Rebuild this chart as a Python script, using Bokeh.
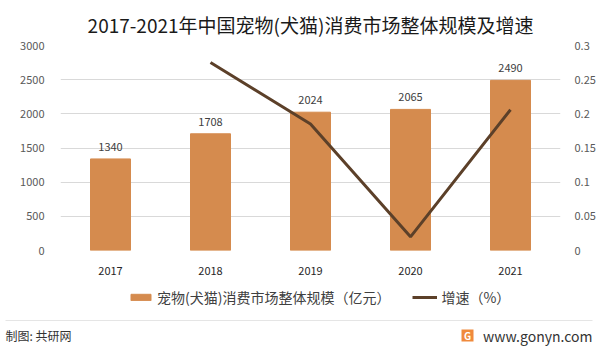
from bokeh.plotting import figure
from bokeh.models import (Range1d, LinearAxis, FixedTicker, CustomJSTickFormatter,
                          Legend, LegendItem, ColumnDataSource, Title)
from bokeh.core.properties import value
from bokeh.embed import file_html
from bokeh.resources import INLINE

years = ["2017", "2018", "2019", "2020", "2021"]
scale = [1340, 1708, 2024, 2065, 2490]
growth_years = ["2018", "2019", "2020", "2021"]
growth = [0.275, 0.185, 0.02, 0.206]
left_ticks = [0, 500, 1000, 1500, 2000, 2500, 3000]
right_ticks = [0, 0.05, 0.1, 0.15, 0.2, 0.25, 0.3]
title_text = "2017-2021年中国宠物(犬猫)消费市场整体规模及增速"
bar_label = "宠物(犬猫)消费市场整体规模（亿元）"
line_label = "增速（%）"
credit = "制图: 共研网"
site = "www.gonyn.com"

FONT = "Noto Sans CJK SC"
BAR = "#D58B4E"
LINE = "#5C4029"

p = figure(x_range=years, y_range=Range1d(0, 3000), width=599, height=280,
           output_backend="svg", toolbar_location=None,
           min_border_left=60, min_border_right=39, min_border_top=44, min_border_bottom=30)
p.outline_line_color = None
p.extra_y_ranges = {"g": Range1d(0, 0.3)}

p.title = Title(text=title_text, align="center", text_font=FONT, text_font_size="19px",
                text_font_style="normal", text_color="#1a1a1a", standoff=16)

src = ColumnDataSource(dict(x=years, y=scale, t=[str(v) for v in scale]))
bars = p.vbar(x="x", top="y", width=0.4, source=src, color=BAR)
p.text(x="x", y="y", text="t", source=src, y_offset=-8, text_align="center",
       text_baseline="bottom", text_font=value(FONT), text_font_size="11px", text_color="#404040")
ln = p.line(growth_years, growth, y_range_name="g", color=LINE, line_width=3)

ax = p.yaxis[0]
ax.ticker = FixedTicker(ticks=left_ticks)
ax.axis_line_color = None
ax.major_tick_line_color = None
ax.minor_tick_line_color = None
ax.major_label_text_font = FONT
ax.major_label_text_font_size = "11px"
ax.major_label_text_color = "#595959"
ax.major_label_standoff = 10

ra = LinearAxis(y_range_name="g", ticker=FixedTicker(ticks=right_ticks),
                formatter=CustomJSTickFormatter(code="return String(Math.round(tick*100)/100)"))
ra.axis_line_color = None
ra.major_tick_line_color = None
ra.minor_tick_line_color = None
ra.major_label_text_font = FONT
ra.major_label_text_font_size = "11px"
ra.major_label_text_color = "#595959"
ra.major_label_standoff = 8
p.add_layout(ra, "right")

xa = p.xaxis[0]
xa.axis_line_color = None
xa.major_tick_line_color = None
xa.minor_tick_line_color = None
xa.major_label_text_font = FONT
xa.major_label_text_font_size = "11px"
xa.major_label_text_color = "#262626"
xa.major_label_standoff = 10

p.xgrid.grid_line_color = None
p.ygrid.grid_line_color = "#D9D9D9"
p.ygrid.ticker = FixedTicker(ticks=left_ticks)

# lower strip: legend + credits
f = figure(x_range=Range1d(0, 599), y_range=Range1d(0, 67), width=599, height=67,
           output_backend="svg", toolbar_location=None, min_border=0)
f.axis.visible = False
f.grid.visible = False
f.outline_line_color = None
lb = f.vbar(x=[-1000], top=[0], width=1, color=BAR)
ll = f.line(x=[-1000, -999], y=[0, 0], color=LINE, line_width=3)
legend = Legend(items=[LegendItem(label=bar_label, renderers=[lb]),
                       LegendItem(label=line_label, renderers=[ll])],
                orientation="horizontal", location=(128, 40), border_line_color=None,
                background_fill_alpha=0, label_text_font=FONT, label_text_font_size="14px",
                label_text_color="#404040", glyph_width=25, glyph_height=8, spacing=22,
                label_standoff=4, padding=0, margin=0)
f.add_layout(legend, "center")
f.segment(x0=[5], y0=[27], x1=[592], y1=[27], line_color="#E5E5E5", line_width=1)
f.text(x=[5], y=[12], text=[credit], text_align="left", text_baseline="middle",
       text_font=value(FONT), text_font_size="12px", text_color="#333333")
f.text(x=[592], y=[12], text=[site], text_align="right", text_baseline="middle",
       text_font=value(FONT), text_font_size="14px", text_color="#333333")
f.rect(x=[467], y=[12], width=12, height=12, fill_color="#F08A3C", line_color=None)
f.text(x=[467], y=[12], text=["G"], text_align="center", text_baseline="middle",
       text_font=value(FONT), text_font_size="10px", text_font_style="bold", text_color="white")

open("out.html", "w").write(file_html([p, f], INLINE))
